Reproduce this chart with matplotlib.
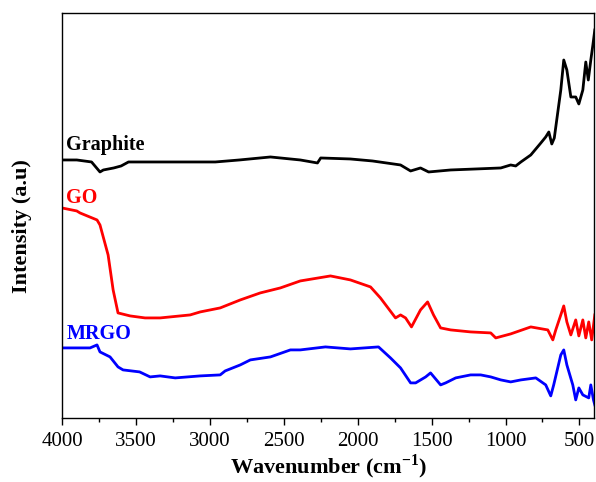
import matplotlib
matplotlib.use("Agg")
import matplotlib.pyplot as plt
from matplotlib.ticker import MultipleLocator
import numpy as np

plt.rcParams['font.family'] = ['Liberation Serif', 'DejaVu Serif']
plt.rcParams['mathtext.fontset'] = 'custom'
plt.rcParams['mathtext.rm'] = 'Liberation Serif'
plt.rcParams['mathtext.bf'] = 'Liberation Serif:bold'

# FTIR spectra (wavenumber in cm-1, intensity in a.u.)
graphite_wn = [4000, 3900, 3800, 3743, 3720, 3650, 3600, 3550, 3300, 2963, 2800, 2590,
               2388, 2272, 2250, 2050, 1900, 1710, 1642, 1575, 1520, 1371, 1200, 1032,
               965, 931, 896, 829, 761, 728, 707, 687, 670, 626, 606, 585, 558, 525,
               504, 477, 457, 440, 423, 409, 396]
graphite_int = [258, 258, 256, 246, 248, 250, 252, 256, 256, 256, 258, 261,
                258, 255, 260, 259, 257, 253, 247, 250, 246, 248, 249, 250,
                253, 252, 256, 263, 275, 281, 286, 274, 280, 328, 358, 348, 321, 321,
                314, 328, 356, 338, 358, 373, 388]

go_wn = [4000, 3900, 3878, 3763, 3743, 3688, 3654, 3621, 3539, 3438, 3336, 3133,
         3065, 2930, 2794, 2659, 2523, 2388, 2184, 2049, 1913, 1846, 1744, 1710,
         1676, 1636, 1575, 1527, 1487, 1439, 1371, 1236, 1100, 1066, 965, 829,
         714, 680, 660, 626, 606, 585, 558, 525, 504, 477, 457, 437, 417, 396]
go_int = [210, 207, 205, 198, 193, 163, 128, 105, 102, 100, 100, 103,
          106, 110, 118, 125, 130, 137, 142, 138, 131, 120, 100, 103,
          100, 91, 108, 116, 103, 90, 88, 86, 85, 80, 84, 91,
          88, 78, 88, 103, 112, 96, 83, 98, 82, 98, 80, 96, 78, 103]

mrgo_wn = [4000, 3810, 3763, 3743, 3675, 3621, 3587, 3475, 3404, 3336, 3234, 3065,
           2930, 2896, 2794, 2726, 2590, 2455, 2388, 2218, 2049, 1859, 1778, 1710,
           1642, 1608, 1540, 1507, 1439, 1405, 1337, 1236, 1168, 1100, 1032, 965,
           896, 795, 728, 694, 674, 626, 606, 585, 545, 525, 504, 477, 437, 423,
           405, 396]
mrgo_int = [70, 70, 73, 66, 61, 51, 48, 46, 41, 42, 40, 42,
            43, 47, 53, 58, 61, 68, 68, 71, 69, 71, 60, 50,
            35, 35, 41, 45, 33, 35, 40, 43, 43, 41, 38, 36,
            38, 40, 33, 22, 33, 63, 68, 53, 33, 18, 30, 23, 20, 33,
            18, 13]

series = [
    ("Graphite", graphite_wn, graphite_int, "black", 263),
    ("GO", go_wn, go_int, "red", 210),
    ("MRGO", mrgo_wn, mrgo_int, "blue", 74),
]

fig = plt.figure(figsize=(5.96, 4.82), dpi=100)
ax = fig.add_axes([0.104, 0.133, 0.893, 0.840])

for name, wn, inten, color, label_y in series:
    ax.plot(wn, inten, color=color, lw=2)
    ax.text(3970, label_y, name, color=color, fontsize=14.5, fontweight='bold',
            ha='left', va='bottom')

ax.set_xlim(4000, 400)
ax.set_ylim(0, 405)
ax.xaxis.set_major_locator(MultipleLocator(500))
ax.xaxis.set_minor_locator(MultipleLocator(250))
ax.tick_params(axis='x', which='major', direction='out', length=5, width=1,
               labelsize=15, pad=5)
ax.tick_params(axis='x', which='minor', direction='out', length=3, width=1)
ax.set_yticks([])
for sp in ax.spines.values():
    sp.set_linewidth(1)

ax.set_xlabel(r'Wavenumber (cm$^{\mathbf{-1}}$)', fontsize=16, fontweight='bold',
              labelpad=1)
ax.set_ylabel('Intensity (a.u)', fontsize=16, fontweight='bold')
ax.yaxis.set_label_coords(-0.056, 0.475)

fig.savefig('out.png', dpi=100)
